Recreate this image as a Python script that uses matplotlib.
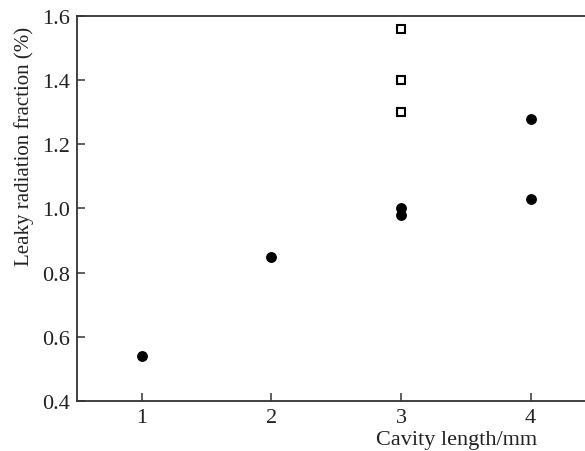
import matplotlib
matplotlib.use("Agg")
import matplotlib.pyplot as plt

# measured points (filled circles)
cavity_len = [1, 2, 3, 3, 4, 4]
leak_frac = [0.54, 0.85, 1.00, 0.98, 1.28, 1.03]

# open squares, all at 3 mm
sq_len = [3, 3, 3]
sq_frac = [1.56, 1.40, 1.30]

x_ticks = [1, 2, 3, 4]
y_ticks = [0.4, 0.6, 0.8, 1.0, 1.2, 1.4, 1.6]

plt.rcParams['font.family'] = ['Liberation Serif', 'DejaVu Serif']

fig = plt.figure(figsize=(5.85, 4.52), dpi=100)
ax = fig.add_axes([77 / 585, 50 / 452, 1 - 77 / 585, 385 / 452])

ax.plot(cavity_len, leak_frac, 'o', color='black', markersize=6.8, clip_on=False)
ax.plot(sq_len, sq_frac, 's', markerfacecolor='white', markeredgecolor='black',
        markeredgewidth=1.5, markersize=6.3, clip_on=False)

ax.set_xlim(0.5, 4.42)
ax.set_ylim(0.4, 1.6)
ax.set_xticks(x_ticks)
ax.set_yticks(y_ticks)
ax.set_yticklabels(['%.1f' % v for v in y_ticks])

ax.spines['right'].set_visible(False)
for s in ['left', 'top', 'bottom']:
    ax.spines[s].set_color('#333333')
    ax.spines[s].set_linewidth(1.3)
ax.tick_params(direction='in', length=6, width=1.1, color='#333333',
               labelsize=16, labelcolor='#222222', pad=5)

# y label sits higher than the axes centre in the original
fig.text(24 / 585, 1 - 146 / 452, 'Leaky radiation fraction (%)', rotation=90,
         ha='center', va='center', fontsize=15, color='#222222')
ax.text(0.906, -0.112, 'Cavity length/mm', transform=ax.transAxes, ha='right', va='baseline',
        fontsize=16, color='#222222')

fig.savefig('out.png', dpi=100)
